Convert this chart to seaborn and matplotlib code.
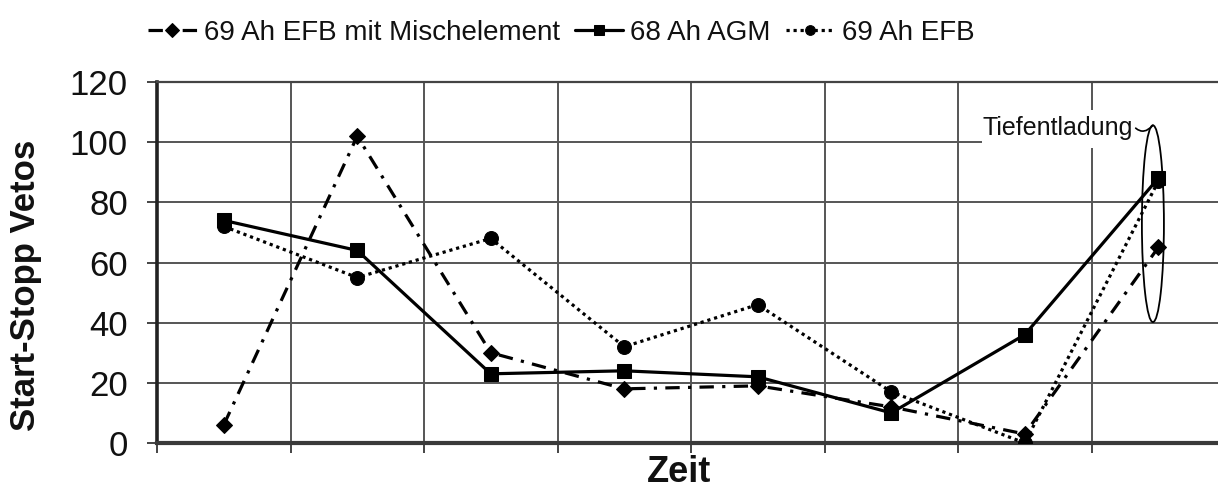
import numpy as np
import pandas as pd
import matplotlib
matplotlib.use("Agg")
import matplotlib.pyplot as plt
from matplotlib.patches import Ellipse, Rectangle
import seaborn as sns

# Measurement points along the time axis (unlabelled categories)
zeitpunkte = [0, 1, 2, 3, 4, 5, 6, 7]

# Start-stop vetoes per battery type
efb_misch = [6, 102, 30, 18, 19, 12, 3, 65]
agm = [74, 64, 23, 24, 22, 10, 36, 88]
efb = [72, 55, 68, 32, 46, 17, 0, 87]

namen = ["69 Ah EFB mit Mischelement", "68 Ah AGM", "69 Ah EFB"]
y_ticks = [0, 20, 40, 60, 80, 100, 120]

sns.set_theme(style="white")
plt.rcParams["font.family"] = ["Liberation Sans", "DejaVu Sans"]

df = pd.DataFrame({"Zeit": zeitpunkte, namen[0]: efb_misch, namen[1]: agm, namen[2]: efb})

fig = plt.figure(figsize=(12.18, 4.93), dpi=100)
ax = fig.add_axes([157 / 1218, 50 / 493, 1068 / 1218, 361 / 493])

lw = 2.3
sns.lineplot(data=df, x="Zeit", y=namen[0], ax=ax, color="black", linewidth=lw,
             linestyle=(0, (4.5, 2.6, 1, 2.6)), marker="D", markersize=8,
             markeredgecolor="black", label=namen[0], zorder=3)
sns.lineplot(data=df, x="Zeit", y=namen[2], ax=ax, color="black", linewidth=lw,
             linestyle=(0, (1, 1.2)), marker="o", markersize=10,
             markeredgecolor="black", label=namen[2], zorder=3)
sns.lineplot(data=df, x="Zeit", y=namen[1], ax=ax, color="black", linewidth=lw,
             linestyle="-", marker="s", markersize=10,
             markeredgecolor="black", label=namen[1], zorder=4)

ax.set_xlim(-0.5, 7.5)
ax.set_ylim(0, 120)
ax.set_yticks(y_ticks)
ax.set_xticks(np.arange(-0.5, 8, 1))
ax.set_xticklabels([])
ax.tick_params(axis="y", labelsize=25, length=7, width=1.4, color="#444444",
               pad=14, left=True, labelcolor="#111111")
ax.tick_params(axis="x", length=7, width=1.4, color="#444444", bottom=True)

ax.grid(True, color="#555555", linewidth=1.4)
ax.set_axisbelow(True)
ax.spines["right"].set_visible(False)
ax.spines["top"].set_color("#444444")
ax.spines["top"].set_linewidth(1.6)
ax.spines["left"].set_color("#222222")
ax.spines["left"].set_linewidth(2.6)
ax.spines["bottom"].set_color("#3a3a3a")
ax.spines["bottom"].set_linewidth(3.0)

ax.set_ylabel("Start-Stopp Vetos", fontsize=25, fontweight="bold", color="#111111")
ax.yaxis.set_label_coords(-0.1077, 0.4377)
ax.set_xlabel("Zeit", fontsize=26, fontweight="bold", color="#111111")
ax.xaxis.set_label_coords(0.4888, -0.032)

# Callout for deep discharge: white label box, ellipse round the last points
ax.add_patch(Rectangle((5.68, 98), 2.5, 12.6, facecolor="white", edgecolor="none", zorder=1))
ax.add_patch(Ellipse((6.96, 72.9), width=0.165, height=65.4, fill=False,
                     edgecolor="black", linewidth=1.3, zorder=5))
ax.annotate("Tiefentladung", xy=(6.96, 105.6), xytext=(5.68, 102.3),
            ha="left", va="baseline", fontsize=18, color="#111111", zorder=6,
            arrowprops=dict(arrowstyle="-", connectionstyle="arc3,rad=0.6",
                            shrinkA=0, shrinkB=0, lw=1.2, color="black",
                            relpos=(1.0, 0.65)))

handles, labels = ax.get_legend_handles_labels()
order = [labels.index(n) for n in namen]
leg = ax.legend([handles[i] for i in order], [labels[i] for i in order],
                loc="center left", bbox_to_anchor=(148 / 1218, 1 - 33 / 493),
                bbox_transform=fig.transFigure, ncol=3, frameon=False,
                fontsize=20, handlelength=1.75, handletextpad=0.25,
                columnspacing=0.55, borderpad=0, borderaxespad=0)
for h in leg.legend_handles:
    h.set_markersize(7)
for t in leg.get_texts():
    t.set_color("#111111")

fig.savefig("out.png", dpi=100)
